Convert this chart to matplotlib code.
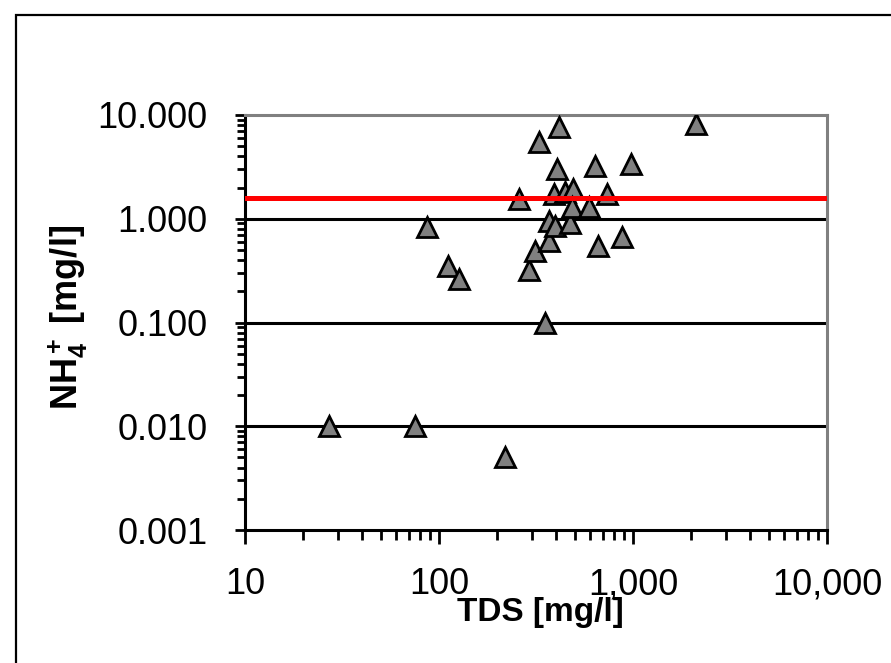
import matplotlib
matplotlib.use("Agg")
import matplotlib.pyplot as plt
from matplotlib.patches import Rectangle
from matplotlib.ticker import FixedLocator, FixedFormatter, NullFormatter

plt.rcParams['font.family'] = ['Liberation Sans', 'DejaVu Sans']
plt.rcParams['mathtext.fontset'] = 'custom'
plt.rcParams['mathtext.rm'] = 'Liberation Sans'
plt.rcParams['mathtext.bf'] = 'Liberation Sans:bold'
plt.rcParams['mathtext.it'] = 'Liberation Sans:italic'

# Data (TDS mg/l vs NH4+ mg/l)
tds = [27, 75, 87, 111, 127, 220, 257, 292, 311, 326, 350, 367, 367, 394,
       390, 404, 414, 444, 489, 472, 483, 592, 635, 659, 733, 877, 977, 2100]
nh4 = [0.01, 0.01, 0.84, 0.35, 0.26, 0.005, 1.55, 0.32, 0.49, 5.5, 0.10, 0.61,
       0.96, 0.86, 1.75, 3.0, 7.7, 1.8, 1.95, 0.9, 1.3, 1.3, 3.2, 0.55,
       1.75, 0.67, 3.4, 8.2]
guideline = 1.6

x_ticks = [10, 100, 1000, 10000]
x_labels = ['10', '100', '1,000', '10,000']
y_ticks = [0.001, 0.01, 0.1, 1, 10]
y_labels = ['0.001', '0.010', '0.100', '1.000', '10.000']
grid_levels = [0.01, 0.1, 1]

W, H = 891, 663
fig = plt.figure(figsize=(W / 100, H / 100), dpi=100)
ax = fig.add_axes([245 / W, 1 - 530 / H, (827 - 245) / W, (530 - 115) / H])

ax.set_xscale('log')
ax.set_yscale('log')
ax.set_xlim(10, 10000)
ax.set_ylim(0.001, 10)

for g in grid_levels:
    ax.axhline(g, color='black', lw=2.2, zorder=1)

ax.plot(tds, nh4, linestyle='none', marker='^', markersize=14,
        markerfacecolor='#808080', markeredgecolor='black',
        markeredgewidth=2, zorder=3)

ax.axhline(guideline, color='#ff0000', lw=3.6, zorder=4)

ax.xaxis.set_major_locator(FixedLocator(x_ticks))
ax.xaxis.set_major_formatter(FixedFormatter(x_labels))
ax.yaxis.set_major_locator(FixedLocator(y_ticks))
ax.yaxis.set_major_formatter(FixedFormatter(y_labels))
ax.xaxis.set_minor_formatter(NullFormatter())
ax.yaxis.set_minor_formatter(NullFormatter())

ax.tick_params(axis='x', which='major', direction='out', length=10, width=2,
               labelsize=26, pad=17, color='black')
ax.tick_params(axis='x', which='minor', direction='out', length=7, width=2,
               color='black')
ax.tick_params(axis='y', which='major', direction='inout', length=14, width=2,
               labelsize=26, pad=20, color='black')
ax.tick_params(axis='y', which='minor', direction='out', length=6, width=2,
               color='black')

for s in ['top', 'right']:
    ax.spines[s].set_color('#808080')
    ax.spines[s].set_linewidth(2.2)
for s in ['left', 'bottom']:
    ax.spines[s].set_color('black')
    ax.spines[s].set_linewidth(2.2)

fig.text(540 / W, 1 - 613 / H, 'TDS [mg/l]', ha='center', va='center',
         fontsize=24, fontweight='bold')
fig.text(68 / W, 1 - 317 / H, r'$\mathbf{NH_4^+}$ [mg/l]', ha='center',
         va='center', rotation=90, fontsize=26, fontweight='bold')

fig.patches.append(Rectangle((16 / W, -0.1), 1.2, 1 - 15 / H + 0.1,
                             transform=fig.transFigure, fill=False,
                             edgecolor='black', linewidth=1.6))

fig.savefig('out.png', dpi=100)
